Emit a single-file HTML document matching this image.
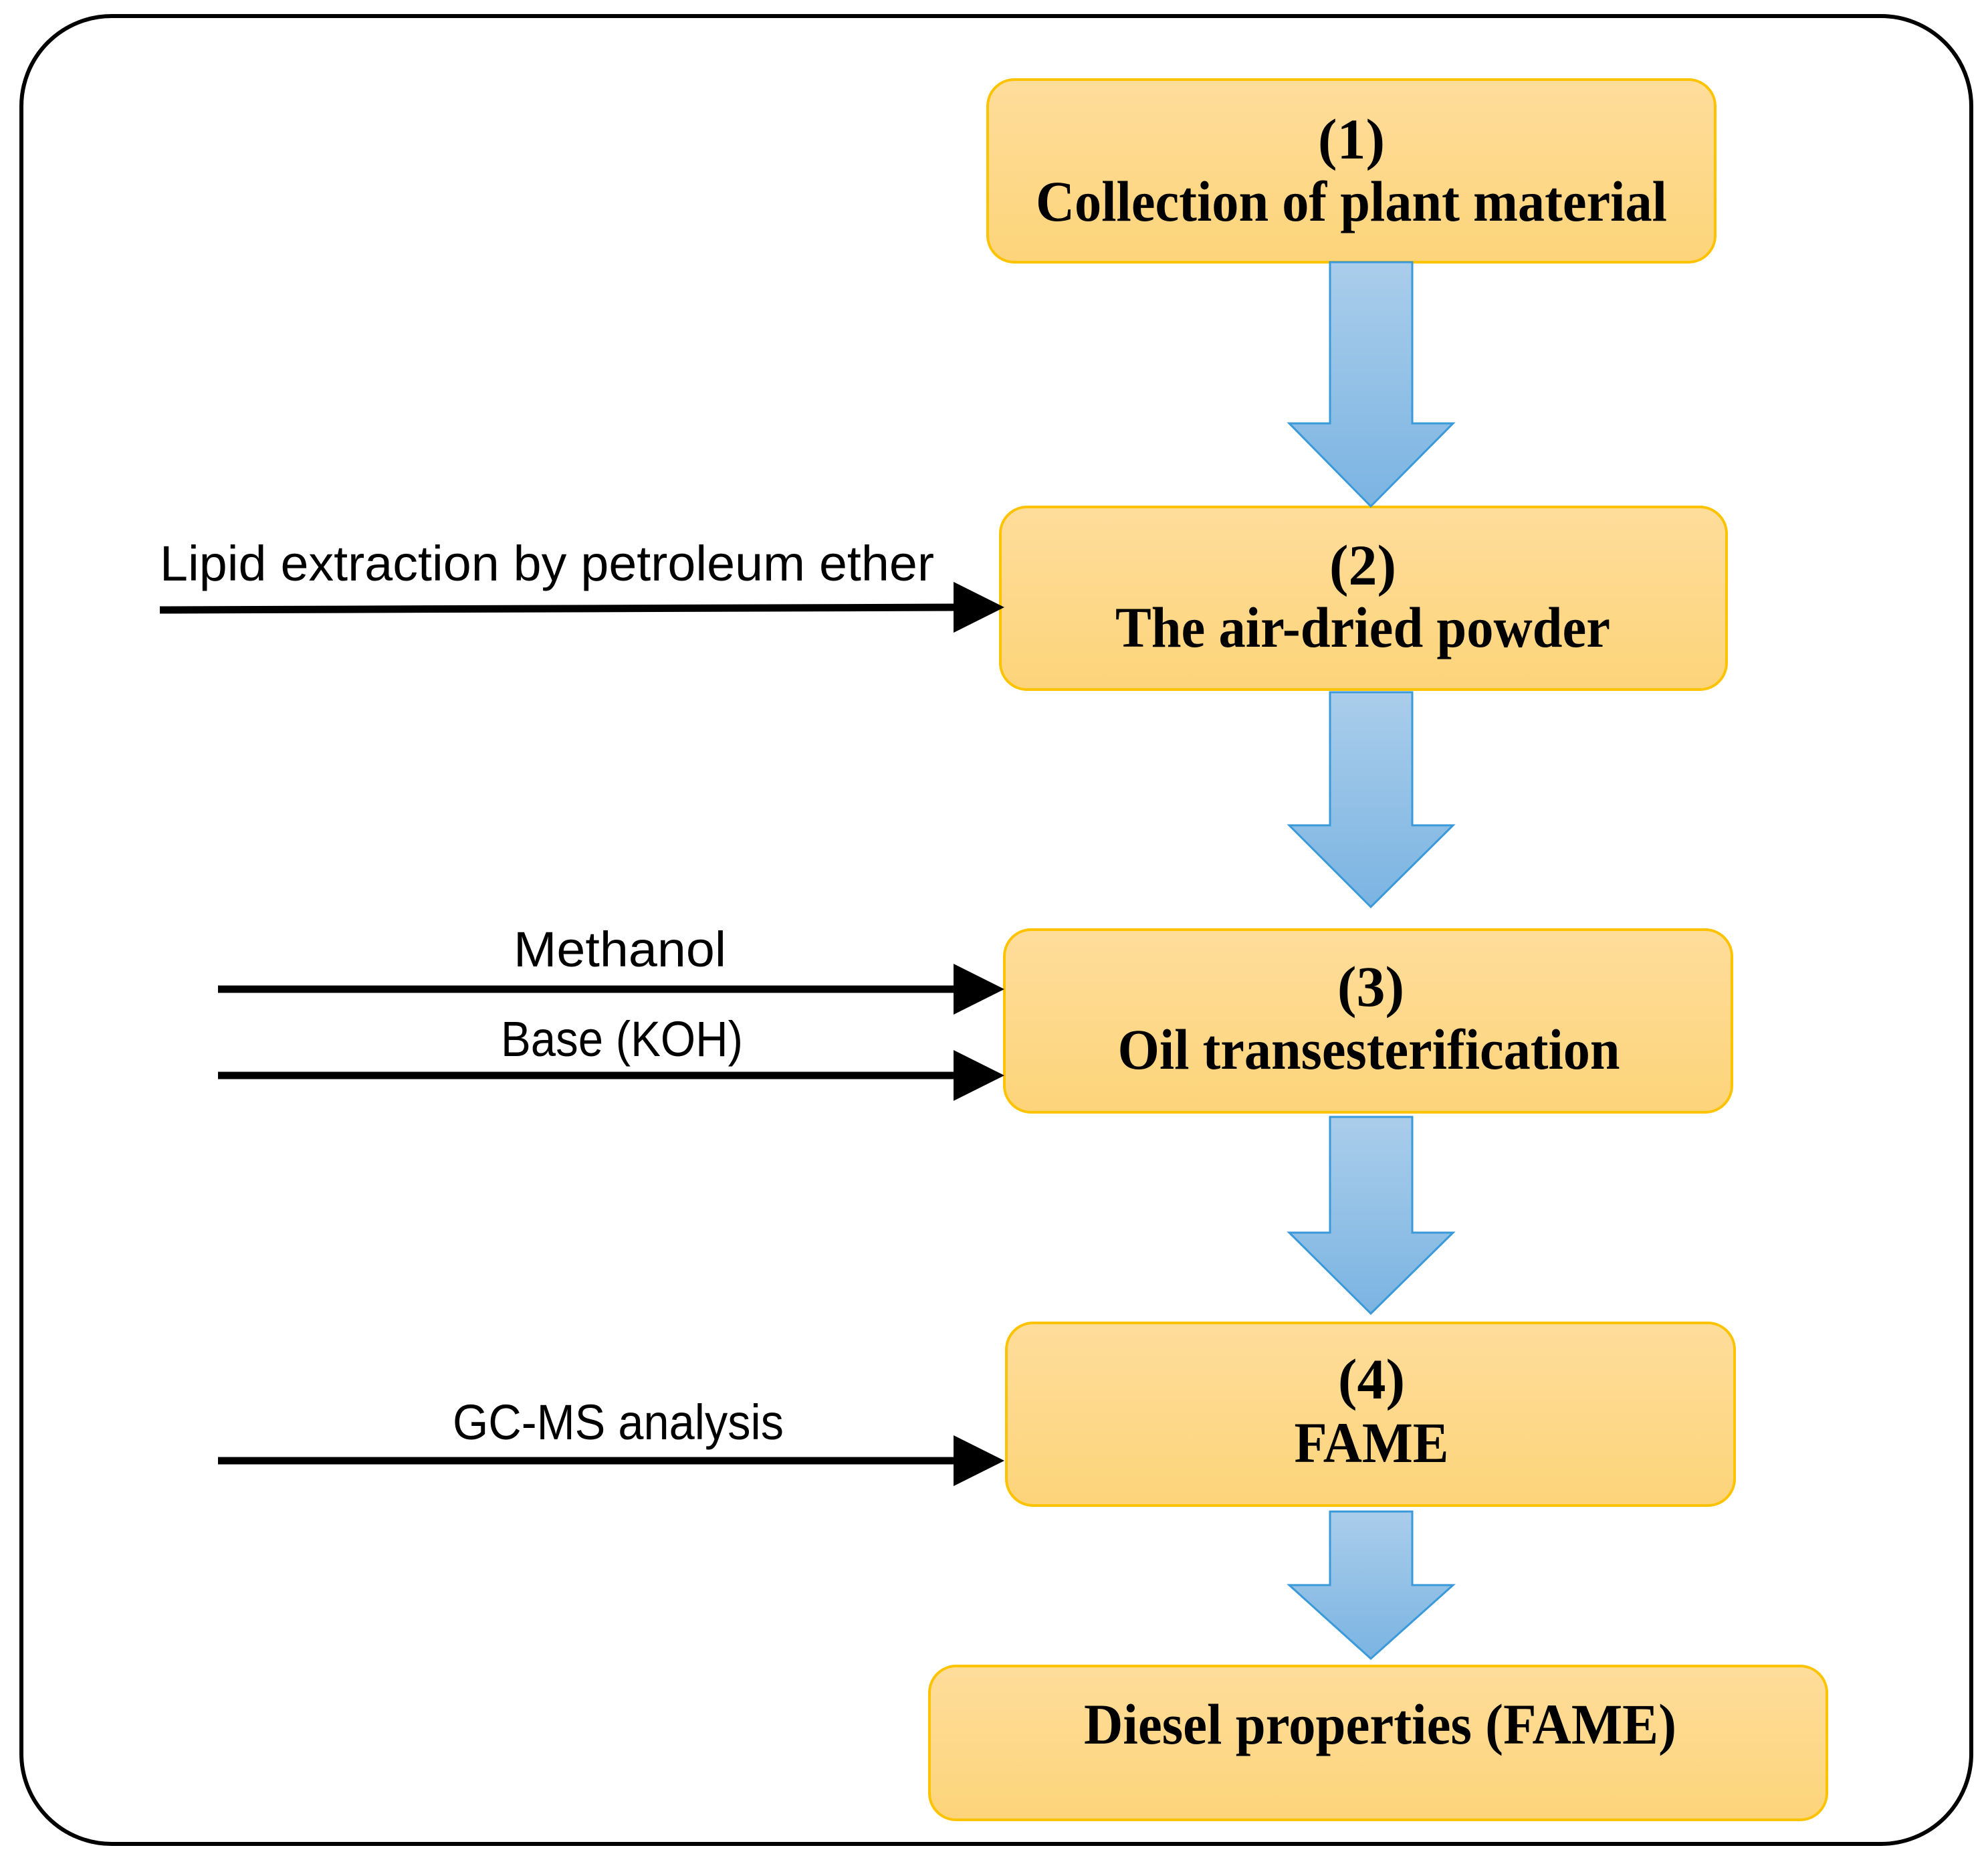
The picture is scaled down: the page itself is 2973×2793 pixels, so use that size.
<!DOCTYPE html>
<html><head><meta charset="utf-8"><style>html,body{margin:0;padding:0;background:#fff}svg{display:block}</style></head>
<body>
<svg width="2973" height="2793" viewBox="0 0 2973 2793" xmlns="http://www.w3.org/2000/svg">
<defs>
<linearGradient id="y" x1="0" y1="0" x2="0" y2="1"><stop offset="0" stop-color="#fedd9b"/><stop offset="1" stop-color="#fdd47a"/></linearGradient>
<linearGradient id="b" x1="0" y1="0" x2="0" y2="1"><stop offset="0" stop-color="#aacdeb"/><stop offset="1" stop-color="#7bb4e2"/></linearGradient>
</defs>
<rect x="32" y="24" width="2916" height="2733" rx="135" fill="#fff" stroke="#000" stroke-width="6"/>
<g fill="url(#y)" stroke="#fdc300" stroke-width="4">
<rect x="1477" y="119" width="1088" height="273" rx="40"/>
<rect x="1496" y="758" width="1086" height="273" rx="40"/>
<rect x="1502" y="1390" width="1088" height="273" rx="40"/>
<rect x="1505" y="1978" width="1089" height="273" rx="40"/>
<rect x="1390" y="2491" width="1342" height="230" rx="40"/>
</g>
<g fill="url(#b)" stroke="#3a9ad9" stroke-width="3">
<polygon points="1989,392 2112,392 2112,633 2173,633 2050,757 1928,633 1989,633"/>
<polygon points="1989,1035 2112,1035 2112,1234 2173,1234 2050,1356 1928,1234 1989,1234"/>
<polygon points="1989,1670 2112,1670 2112,1843 2173,1843 2050,1964 1928,1843 1989,1843"/>
<polygon points="1989,2260 2112,2260 2112,2370 2173,2370 2050,2480 1928,2370 1989,2370"/>
</g>
<g font-family="'Liberation Serif',serif" font-weight="bold" font-size="86" text-anchor="middle" fill="#000">
<text x="2021" y="237">(1)</text>
<text x="2021" y="330" textLength="944" lengthAdjust="spacingAndGlyphs">Collection of plant material</text>
<text x="2038" y="874">(2)</text>
<text x="2038" y="967" textLength="740" lengthAdjust="spacingAndGlyphs">The air-dried powder</text>
<text x="2050" y="1504">(3)</text>
<text x="2047" y="1598" textLength="751" lengthAdjust="spacingAndGlyphs">Oil transesterification</text>
<text x="2051" y="2091">(4)</text>
<text x="2051" y="2186" textLength="231" lengthAdjust="spacingAndGlyphs">FAME</text>
<text x="2064" y="2607" textLength="886" lengthAdjust="spacingAndGlyphs">Diesel properties (FAME)</text>
</g>
<g stroke="#000" stroke-width="11">
<line x1="239" y1="912" x2="1440" y2="908"/>
<line x1="326" y1="1479" x2="1440" y2="1479"/>
<line x1="326" y1="1608" x2="1440" y2="1608"/>
<line x1="326" y1="2184" x2="1440" y2="2184"/>
</g>
<g fill="#000">
<polygon points="1426,870 1502,908 1426,946"/>
<polygon points="1426,1441 1502,1479 1426,1517"/>
<polygon points="1426,1570 1502,1608 1426,1646"/>
<polygon points="1426,2146 1502,2184 1426,2222"/>
</g>
<g font-family="'Liberation Sans',sans-serif" font-size="74" fill="#000">
<text x="239" y="868" textLength="1158" lengthAdjust="spacingAndGlyphs">Lipid extraction by petroleum ether</text>
<text x="768" y="1445" textLength="318" lengthAdjust="spacingAndGlyphs">Methanol</text>
<text x="749" y="1579" textLength="362" lengthAdjust="spacingAndGlyphs">Base (KOH)</text>
<text x="677" y="2152" textLength="495" lengthAdjust="spacingAndGlyphs">GC-MS analysis</text>
</g>
</svg>
</body></html>
